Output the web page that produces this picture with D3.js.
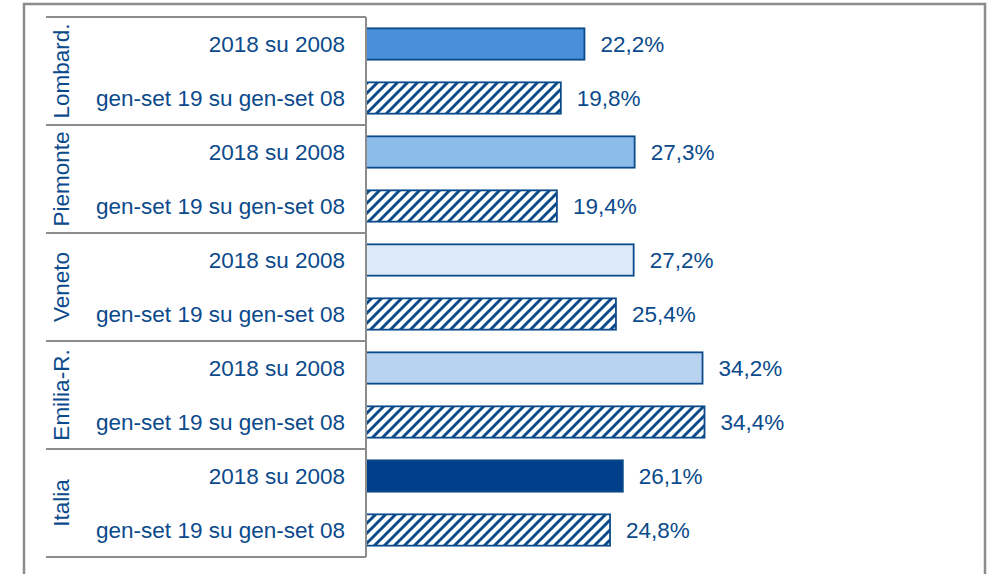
<!DOCTYPE html>
<html>
<head>
<meta charset="utf-8">
<script src="https://cdn.jsdelivr.net/npm/d3@7"></script>
<style>
  html, body { margin: 0; padding: 0; background: #ffffff; }
  svg { display: block; font-family: "Liberation Sans", Arial, Helvetica, sans-serif; }
</style>
</head>
<body>
<svg id="chart" width="990" height="574"></svg>
<script>
// Regions and the two comparisons shown for each of them
const regions = ["Lombard.", "Piemonte", "Veneto", "Emilia-R.", "Italia"];
const periods = ["2018 su 2008", "gen-set 19 su gen-set 08"];
// Percentage change, one value per region
const yearOnYear = [22.2, 27.3, 27.2, 34.2, 26.1];
const janSep = [19.8, 19.4, 25.4, 34.4, 24.8];
// Fill of the solid bar for each region
const regionFills = ["#4a8fd9", "#8dbbea", "#dce9f8", "#b8d3f0", "#003f8a"];

const ink = "#0b4a8b";
const frame = "#8c8c8c";

const svg = d3.select("#chart");

// Diagonal hatch for the January–September bars
const defs = svg.append("defs");
const pat = defs.append("pattern")
  .attr("id", "hatch")
  .attr("patternUnits", "userSpaceOnUse")
  .attr("width", 10).attr("height", 10);
pat.append("rect").attr("width", 10).attr("height", 10).attr("fill", "#ffffff");
pat.append("path")
  .attr("d", "M-1,1 l2,-2 M0,10 l10,-10 M9,11 l2,-2")
  .attr("stroke", ink).attr("stroke-width", 3).attr("stroke-linecap", "square");

// Outer frame
svg.append("rect")
  .attr("x", 24).attr("y", 4).attr("width", 961).attr("height", 600)
  .attr("fill", "none").attr("stroke", frame).attr("stroke-width", 2.5);

// Flattened rows: region × period
const rows = [];
regions.forEach((r, i) => {
  rows.push({ region: r, period: periods[0], value: yearOnYear[i], fill: regionFills[i], key: r + "|0" });
  rows.push({ region: r, period: periods[1], value: janSep[i], fill: "url(#hatch)", key: r + "|1" });
});

const plotTop = 17, plotBottom = 557, x0 = 366;
const y = d3.scaleBand()
  .domain(rows.map(d => d.key))
  .range([plotTop, plotBottom])
  .paddingInner(0.42)
  .paddingOuter(0.21);

const x = d3.scaleLinear().domain([0, 40]).range([x0, x0 + 393.6]);

const step = y.step();

// Bars
svg.append("g").selectAll("rect")
  .data(rows)
  .join("rect")
  .attr("x", x(0))
  .attr("y", d => y(d.key))
  .attr("width", d => x(d.value) - x(0))
  .attr("height", y.bandwidth())
  .attr("fill", d => d.fill)
  .attr("stroke", ink)
  .attr("stroke-width", 1.8);

// Value labels
svg.append("g").selectAll("text")
  .data(rows)
  .join("text")
  .attr("x", d => x(d.value) + 16)
  .attr("y", d => y(d.key) + y.bandwidth() / 2)
  .attr("dy", "0.36em")
  .attr("font-size", 22.5)
  .attr("fill", ink)
  .text(d => d.value.toFixed(1).replace(".", ",") + "%");

// Period labels on the category axis
svg.append("g").selectAll("text")
  .data(rows)
  .join("text")
  .attr("x", 345)
  .attr("y", d => y(d.key) + y.bandwidth() / 2)
  .attr("dy", "0.36em")
  .attr("text-anchor", "end")
  .attr("font-size", 22.5)
  .attr("fill", ink)
  .text(d => d.period);

// Region labels, rotated, centred in each group
const groupH = step * periods.length;
svg.append("g").selectAll("text")
  .data(regions)
  .join("text")
  .attr("transform", (d, i) => `translate(61,${plotTop + groupH * i + groupH / 2}) rotate(-90)`)
  .attr("dy", "0.36em")
  .attr("text-anchor", "middle")
  .attr("font-size", 22.5)
  .attr("fill", ink)
  .text(d => d);

// Group separators and axis line
const axis = svg.append("g").attr("stroke", frame).attr("stroke-width", 2);
d3.range(regions.length + 1).forEach(i => {
  const yy = plotTop + groupH * i;
  axis.append("line").attr("x1", 46).attr("x2", x0).attr("y1", yy).attr("y2", yy);
});
axis.append("line").attr("x1", x0).attr("x2", x0).attr("y1", plotTop).attr("y2", plotBottom);
</script>
</body>
</html>
